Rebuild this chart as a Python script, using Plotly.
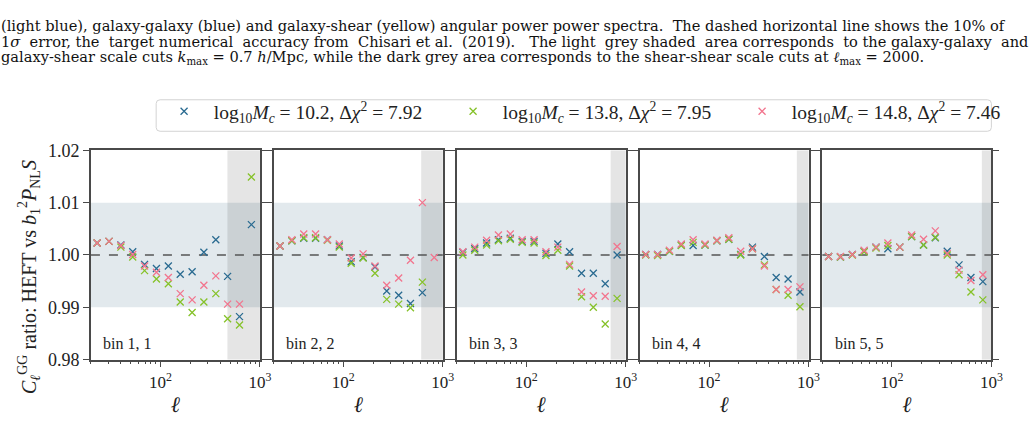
import math
import plotly.graph_objects as go
from plotly.subplots import make_subplots

# ---------------- data ----------------
ell = [23.1, 30.4, 40.0, 52.6, 69.2, 91.1, 120.0, 158.0, 208.0, 273.0, 360.0, 473.0, 623.0, 820.0]
bins = ["bin 1, 1", "bin 2, 2", "bin 3, 3", "bin 4, 4", "bin 5, 5"]
ell_cut = [471, 606, 706, 763, 802]

series_names = [
    "log<sub>10</sub><i>M<sub>c</sub></i> = 10.2, Δ<i>χ</i><sup>2</sup> = 7.92",
    "log<sub>10</sub><i>M<sub>c</sub></i> = 13.8, Δ<i>χ</i><sup>2</sup> = 7.95",
    "log<sub>10</sub><i>M<sub>c</sub></i> = 14.8, Δ<i>χ</i><sup>2</sup> = 7.46",
]

ratio_mc102 = [
    [1.0023, 1.0026, 1.0019, 1.0006, 0.9982, 0.9974, 0.9979, 0.9963, 0.9968, 1.0005, 1.0029, 0.9959, 0.9882, 1.0058],
    [1.0017, 1.0027, 1.0032, 1.0032, 1.0029, 1.0017, 0.9987, 0.9995, 0.9977, 0.9931, 0.9923, 0.9907, 0.9928, None],
    [1.0005, 1.0012, 1.0023, 1.0029, 1.0032, 1.0026, 1.0026, 1.0003, 1.0021, 1.0006, 0.9965, 0.9965, 0.9945, 1.0000],
    [1.0001, 1.0001, 1.0007, 1.0019, 1.0018, 1.0019, 1.0027, 1.0030, 1.0001, 1.0015, 0.9997, 0.9957, 0.9954, 0.9929],
    [0.9997, 0.9996, 1.0001, 1.0007, 1.0015, 1.0012, 1.0015, 1.0035, 1.0019, 1.0033, 1.0007, 0.9981, 0.9957, 0.9949],
]
ratio_mc138 = [
    [1.0023, 1.0026, 1.0015, 0.9996, 0.9970, 0.9954, 0.9945, 0.9910, 0.9890, 0.9910, 0.9926, 0.9878, 0.9866, 1.0149],
    [1.0017, 1.0027, 1.0033, 1.0033, 1.0028, 1.0015, 0.9984, 0.9994, 0.9965, 0.9915, 0.9906, 0.9899, 0.9948, None],
    [1.0000, 1.0009, 1.0019, 1.0027, 1.0030, 1.0024, 1.0023, 0.9999, 1.0009, 0.9979, 0.9920, 0.9900, 0.9868, 0.9917],
    [1.0000, 0.9999, 1.0007, 1.0018, 1.0024, 1.0019, 1.0027, 1.0030, 1.0000, 1.0012, 0.9981, 0.9934, 0.9923, 0.9901],
    [0.9997, 0.9996, 1.0000, 1.0006, 1.0013, 1.0018, 1.0015, 1.0035, 1.0019, 1.0034, 1.0000, 0.9962, 0.9929, 0.9914],
]
ratio_mc148 = [
    [1.0023, 1.0026, 1.0018, 1.0001, 0.9979, 0.9967, 0.9957, 0.9926, 0.9914, 0.9942, 0.9960, 0.9906, 0.9906, None],
    [1.0017, 1.0029, 1.0040, 1.0040, 1.0029, 1.0021, 0.9994, 1.0002, 0.9979, 0.9942, 0.9956, 0.9990, 1.0100, 0.9995],
    [1.0006, 1.0015, 1.0028, 1.0038, 1.0040, 1.0029, 1.0029, 1.0006, 1.0015, 0.9982, 0.9929, 0.9922, 0.9921, 1.0016],
    [1.0001, 1.0001, 1.0009, 1.0021, 1.0029, 1.0021, 1.0028, 1.0033, 1.0007, 1.0012, 0.9979, 0.9934, 0.9934, 0.9939],
    [0.9997, 0.9997, 1.0001, 1.0009, 1.0015, 1.0023, 1.0015, 1.0038, 1.0030, 1.0046, 1.0003, 0.9971, 0.9951, 0.9962],
]

y_ticks = [0.98, 0.99, 1.00, 1.01, 1.02]
x_major = [100, 1000]
x_major_text = ["10<sup>2</sup>", "10<sup>3</sup>"]
x_minor = [20, 30, 40, 50, 60, 70, 80, 90, 200, 300, 400, 500, 600, 700, 800, 900]

# ---------------- style ----------------
W, H = 1036, 444
colors = ["#2a6b91", "#86c22a", "#f2758e"]
series = [ratio_mc102, ratio_mc138, ratio_mc148]
SERIF = "Liberation Serif"
AX = "#4a4a4a"
panel_px = [(92, 263), (277, 448), (462, 633), (647, 818), (832, 1003)]
top_px, bot_px = 147, 366
x_lo, x_hi = 20, 1000

fig = make_subplots(rows=1, cols=5)

for p in range(5):
    for s in range(3):
        fig.add_trace(
            go.Scatter(
                x=ell, y=series[s][p], mode="markers",
                name="&nbsp;&nbsp;" + series_names[s],
                showlegend=(p == 0), legendgroup=str(s),
                marker=dict(symbol="x-thin", size=7, color=colors[s],
                            line=dict(color=colors[s], width=1.3)),
                cliponaxis=True,
            ),
            row=1, col=p + 1,
        )

for p in range(5):
    xa = "xaxis" if p == 0 else f"xaxis{p+1}"
    ya = "yaxis" if p == 0 else f"yaxis{p+1}"
    xr = "x" if p == 0 else f"x{p+1}"
    yr = "y" if p == 0 else f"y{p+1}"
    x0, x1 = panel_px[p]
    fig.layout[xa].update(
        domain=[x0 / W, x1 / W], type="log",
        range=[math.log10(x_lo), math.log10(x_hi)],
        tickvals=x_major, ticktext=x_major_text, ticks="outside", ticklen=6,
        tickwidth=1.2, tickcolor=AX,
        minor=dict(tickvals=x_minor, ticks="outside", ticklen=3, tickwidth=1, tickcolor=AX),
        showline=True, linecolor=AX, linewidth=1.5, mirror=True, showgrid=False,
        zeroline=False,
        tickfont=dict(family=SERIF, size=17, color="#222"),
        title=dict(text="<i>ℓ</i>", font=dict(family=SERIF, size=22, color="#222"), standoff=6),
    )
    fig.layout[ya].update(
        domain=[1 - bot_px / H, 1 - top_px / H], range=[0.98, 1.02],
        tickvals=y_ticks, tickformat=".2f", ticks="outside", ticklen=6,
        tickwidth=1.2, tickcolor=AX, showticklabels=(p == 0),
        showline=True, linecolor=AX, linewidth=1.5, mirror="ticks", showgrid=False,
        zeroline=False,
        tickfont=dict(family=SERIF, size=18, color="#222"),
    )
    # 10% of 1-sigma band
    fig.add_shape(type="rect", xref=f"{xr} domain", yref=yr, x0=0, x1=1, y0=0.99, y1=1.01,
                  fillcolor="#e2e9ed", line=dict(width=0), layer="below")
    # scale cut region
    f0 = (math.log10(ell_cut[p]) - math.log10(x_lo)) / (math.log10(x_hi) - math.log10(x_lo))
    fig.add_shape(type="rect", xref=f"{xr} domain", yref=f"{yr} domain", x0=f0, x1=1, y0=0, y1=1,
                  fillcolor="rgba(0,0,0,0.1)", line=dict(width=0), layer="below")
    # dashed reference line
    fig.add_shape(type="line", xref=f"{xr} domain", yref=yr, x0=0, x1=1, y0=1.0, y1=1.0,
                  line=dict(color="#555", width=1.4, dash="dash"), layer="below")
    fig.add_annotation(xref=f"{xr} domain", yref=f"{yr} domain", x=0.06, y=0.075,
                       xanchor="left", yanchor="middle", showarrow=False, text=bins[p],
                       font=dict(family=SERIF, size=16, color="#222"))

# legend frame with rounded corners
lx0, lx1, ly0, ly1, rr = 158, 1003, 94, 127, 4
def px(x):
    return x / W
def py(y):
    return 1 - y / H
frame = (f"M {px(lx0 + rr)},{py(ly0)} L {px(lx1 - rr)},{py(ly0)} Q {px(lx1)},{py(ly0)} {px(lx1)},{py(ly0 + rr)} "
         f"L {px(lx1)},{py(ly1 - rr)} Q {px(lx1)},{py(ly1)} {px(lx1 - rr)},{py(ly1)} "
         f"L {px(lx0 + rr)},{py(ly1)} Q {px(lx0)},{py(ly1)} {px(lx0)},{py(ly1 - rr)} "
         f"L {px(lx0)},{py(ly0 + rr)} Q {px(lx0)},{py(ly0)} {px(lx0 + rr)},{py(ly0)} Z")
fig.add_shape(type="path", xref="paper", yref="paper", path=frame, fillcolor="white",
              line=dict(color="#d3d3d3", width=1), layer="below")

# y-axis title
fig.add_annotation(xref="paper", yref="paper", x=30 / W, y=1 - 280 / H, textangle=-90,
                   xanchor="center", yanchor="middle", showarrow=False,
                   text="<i>C</i><sub><i>ℓ</i></sub><sup>GG</sup> ratio: HEFT vs <i>b</i><sub>1</sub><sup>2</sup><i>P</i><sub>NL</sub><i>S</i>",
                   font=dict(family=SERIF, size=20, color="#222"))

# caption text above the figure (extra spaces approximate the justified lines)
caption = [
    "(light blue), galaxy-galaxy (blue) and galaxy-shear (yellow) angular power power spectra.  The dashed horizontal line shows the 10% of",
    "1<i>σ</i>&nbsp; error, the&nbsp; target numerical&nbsp; accuracy from&nbsp; Chisari et al.&nbsp; (2019).&nbsp;  The light&nbsp; grey shaded&nbsp; area corresponds&nbsp; to the galaxy-galaxy&nbsp; and",
    "galaxy-shear scale cuts <i>k</i><sub>max</sub> = 0.7 <i>h</i>/Mpc, while the dark grey area corresponds to the shear-shear scale cuts at <i>ℓ</i><sub>max</sub> = 2000.",
]
cap_y = [16.5, 33, 49.5]
for t, yy in zip(caption, cap_y):
    fig.add_annotation(xref="paper", yref="paper", x=0, y=1 - yy / H, xanchor="left", yanchor="middle",
                       showarrow=False, text=t, borderpad=0,
                       font=dict(family="DejaVu Serif", size=14.6, color="#111"))

fig.update_layout(
    width=W, height=H, margin=dict(l=0, r=0, t=0, b=0),
    paper_bgcolor="white", plot_bgcolor="white",
    showlegend=True,
    legend=dict(orientation="h", x=166 / W, y=1 - 86 / H, xanchor="left", yanchor="top",
                borderwidth=0, bgcolor="rgba(0,0,0,0)",
                entrywidth=244, entrywidthmode="pixels",
                font=dict(family=SERIF, size=19.5, color="#222")),
)

fig.write_html("out.html")
